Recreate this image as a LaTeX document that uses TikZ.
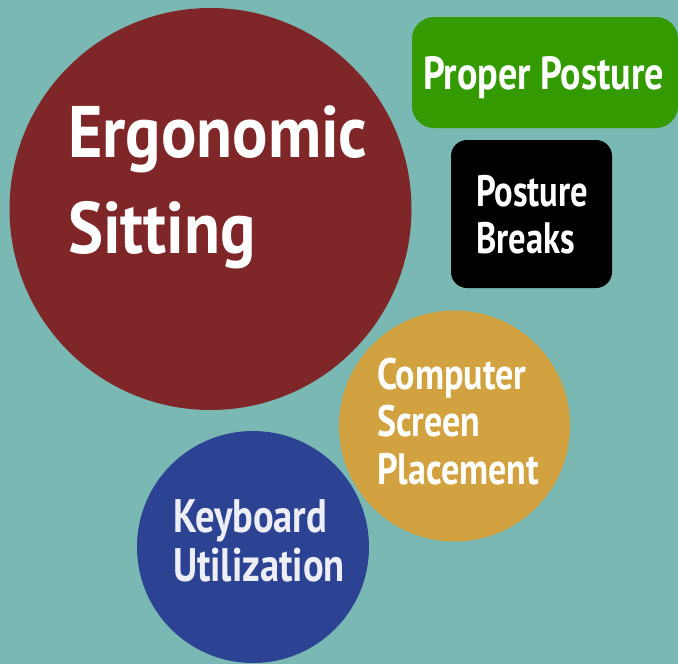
\documentclass[tikz,border=0pt]{standalone}
\usepackage{fontspec}
\newfontfamily\dinfont[FakeStretch=0.82]{PT Sans Bold}
\newfontfamily\dinwide[FakeStretch=0.905]{PT Sans Bold}
\newfontfamily\dinnarrow[FakeStretch=0.785]{PT Sans Bold}
\definecolor{bgteal}{HTML}{7AB8B3}
\definecolor{ergored}{HTML}{7F2628}
\definecolor{postgreen}{HTML}{339A00}
\definecolor{screengold}{HTML}{D1A23F}
\definecolor{keyblue}{HTML}{2C4293}
\definecolor{paletext}{HTML}{EEEEF6}
\tikzset{
  bubble/.style={circle, draw=none, inner sep=0pt},
  tile/.style={rectangle, draw=none, inner sep=0pt},
  label/.style={inner sep=0pt, outer sep=0pt, align=left, text=white, anchor=base west},
}
\begin{document}
\begin{tikzpicture}[x=1pt,y=-1pt]
\fill[bgteal] (0,0) rectangle (678,664);
\useasboundingbox (0,0) rectangle (678,664);
% shapes
\node[bubble, fill=ergored, minimum size=402pt] (ergo) at (210.5,209) {};
\node[tile, fill=postgreen, rounded corners=22pt, minimum width=266pt, minimum height=111pt] (proper) at (545,72.5) {};
\node[tile, fill=black, rounded corners=16pt, minimum width=161pt, minimum height=148pt] (breaks) at (531.5,214) {};
\node[bubble, fill=screengold, minimum size=231pt] (screen) at (454.5,426) {};
\node[bubble, fill=keyblue, minimum size=232pt] (keyb) at (253,547) {};
% texts (base anchor = baseline of last line)
\node[label, font=\dinwide\fontsize{73}{96}\selectfont] (ergotext) at (68,253) {Ergonomic\\Sitting};
\node[label, font=\dinfont\fontsize{46.5}{50}\selectfont] (propertext) at (423,89) {Proper Posture};
\node[label, font=\dinnarrow\fontsize{44}{47}\selectfont] (breakstext) at (476,253) {Posture\\Breaks};
\node[label, font=\dinfont\fontsize{44}{47.5}\selectfont] (screentext) at (377,484) {Computer\\Screen\\Placement};
\node[label, text=paletext, font=\dinfont\fontsize{47}{49}\selectfont] (keybtext) at (173,581) {Keyboard\\Utilization};
\end{tikzpicture}
\end{document}
